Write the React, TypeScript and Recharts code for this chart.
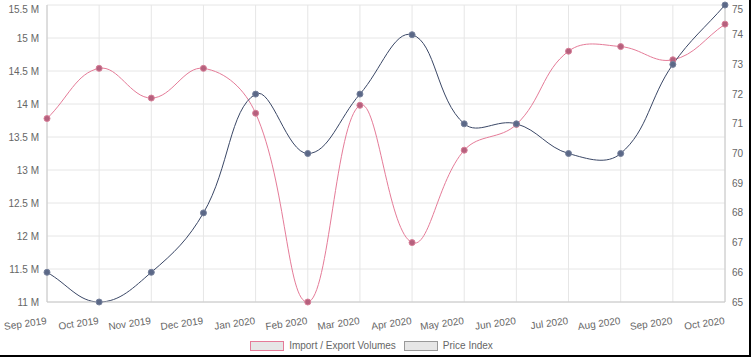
import React from 'react';
import { CartesianGrid, Legend, Line, LineChart, XAxis, YAxis } from 'recharts';

const months = ['Sep 2019', 'Oct 2019', 'Nov 2019', 'Dec 2019', 'Jan 2020', 'Feb 2020', 'Mar 2020',
    'Apr 2020', 'May 2020', 'Jun 2020', 'Jul 2020', 'Aug 2020', 'Sep 2020', 'Oct 2020'];
const volumes = [13780000, 14540000, 14090000, 14540000, 13860000, 11000000, 13980000,
    11900000, 13300000, 13690000, 14800000, 14870000, 14670000, 15210000];
const priceIndex = [66, 65, 66, 68, 72, 70, 72, 74, 71, 71, 70, 70, 73, 75];
const volumeTicks = [11000000, 11500000, 12000000, 12500000, 13000000, 13500000, 14000000, 14500000, 15000000, 15500000];
const priceTicks = [65, 66, 67, 68, 69, 70, 71, 72, 73, 74, 75];

const PINK = '#e57b98';
const NAVY = '#3a4766';
const TXT = '#666';
const FONT = '"Liberation Sans", Arial, sans-serif';

// chart.js style spline (tension 0.4)
const splineCurve = (tension: number) => (context: any) => {
    let pts: number[][] = [];
    return {
        areaStart() { },
        areaEnd() { },
        lineStart() { pts = []; },
        point(x: number, y: number) { pts.push([+x, +y]); },
        lineEnd() {
            const n = pts.length;
            if (!n) return;
            const cps = pts.map((p, i) => {
                const prev = pts[i - 1] || p;
                const next = pts[i + 1] || p;
                const d01 = Math.hypot(p[0] - prev[0], p[1] - prev[1]);
                const d12 = Math.hypot(next[0] - p[0], next[1] - p[1]);
                let s01 = d01 / (d01 + d12);
                let s12 = d12 / (d01 + d12);
                if (isNaN(s01)) s01 = 0;
                if (isNaN(s12)) s12 = 0;
                const fa = tension * s01;
                const fb = tension * s12;
                return {
                    px: p[0] - fa * (next[0] - prev[0]), py: p[1] - fa * (next[1] - prev[1]),
                    nx: p[0] + fb * (next[0] - prev[0]), ny: p[1] + fb * (next[1] - prev[1]),
                };
            });
            context.moveTo(pts[0][0], pts[0][1]);
            for (let i = 1; i < n; i++) {
                context.bezierCurveTo(cps[i - 1].nx, cps[i - 1].ny, cps[i].px, cps[i].py, pts[i][0], pts[i][1]);
            }
        },
    };
};

const XTick = (props: any) => {
    const { x, y, payload } = props;
    const ty = y + 14;
    return (
        <text x={x} y={ty} textAnchor="end" fontSize={10} fill={TXT} fontFamily={FONT}
            transform={`rotate(-8, ${x}, ${ty})`}>{payload.value}</text>
    );
};

const LeftTick = (props: any) => {
    const { y, payload } = props;
    return (
        <text x={39} y={y + 3.5} textAnchor="end" fontSize={10} fill={TXT} fontFamily={FONT}>
            {payload.value / 1000000 + ' M'}
        </text>
    );
};

const RightTick = (props: any) => {
    const { y, payload } = props;
    return (
        <text x={732} y={y + 3.5} textAnchor="start" fontSize={10} fill={TXT} fontFamily={FONT}>
            {payload.value}
        </text>
    );
};

const LegendBox = () => (
    <div style={{ display: 'flex', justifyContent: 'center', alignItems: 'flex-start', height: 22,
        fontFamily: FONT, fontSize: 10, lineHeight: '10px', color: TXT, paddingRight: 10, paddingTop: 4,
        boxSizing: 'border-box' }}>
        <span style={{ width: 32, height: 8, background: '#e6e6e6', border: `1px solid ${PINK}`, marginRight: 5 }} />
        <span style={{ marginRight: 8 }}>Import / Export Volumes</span>
        <span style={{ width: 32, height: 8, background: '#e6e6e6', border: '1px solid #999', marginRight: 5 }} />
        <span>Price Index</span>
    </div>
);

const App: React.FC = () => {
    const data = months.map((m, i) => ({ name: m, volume: volumes[i], price: priceIndex[i] }));

    return (
        <div style={{ position: 'absolute', left: 0, top: 0, width: 753, height: 359, background: '#fff' }}>
            <LineChart width={753} height={359} data={data}
                margin={{ top: 5, right: 0, left: 0, bottom: 0 }}>
                <CartesianGrid yAxisId="left" stroke="#e6e6e6" />
                <XAxis dataKey="name" height={35} interval={0} tick={<XTick />}
                    axisLine={{ stroke: '#c8c8c8' }} tickLine={false} />
                <YAxis yAxisId="left" width={47} domain={[11000000, 15500000]} ticks={volumeTicks}
                    tick={<LeftTick />} axisLine={{ stroke: '#c8c8c8' }} tickLine={false} />
                <YAxis yAxisId="right" orientation="right" width={28} domain={[65, 75]} ticks={priceTicks}
                    tick={<RightTick />} axisLine={{ stroke: '#c8c8c8' }} tickLine={false} />
                <Legend verticalAlign="bottom" content={<LegendBox />} />
                <Line yAxisId="left" dataKey="volume" type={splineCurve(0.4) as any} stroke={PINK} strokeWidth={1}
                    dot={{ r: 3, fill: '#b5607d', stroke: '#d77f98', strokeWidth: 1 }} isAnimationActive={false} />
                <Line yAxisId="right" dataKey="price" type={splineCurve(0.4) as any} stroke={NAVY} strokeWidth={1}
                    dot={{ r: 3, fill: '#5b6887', stroke: '#76819c', strokeWidth: 1 }} isAnimationActive={false} />
            </LineChart>
            <div style={{ position: 'absolute', left: 0, top: 355, width: 751, height: 2, background: '#000' }} />
            <div style={{ position: 'absolute', left: 749, top: 0, width: 2, height: 357, background: '#000' }} />
        </div>
    );
};

export default App;
